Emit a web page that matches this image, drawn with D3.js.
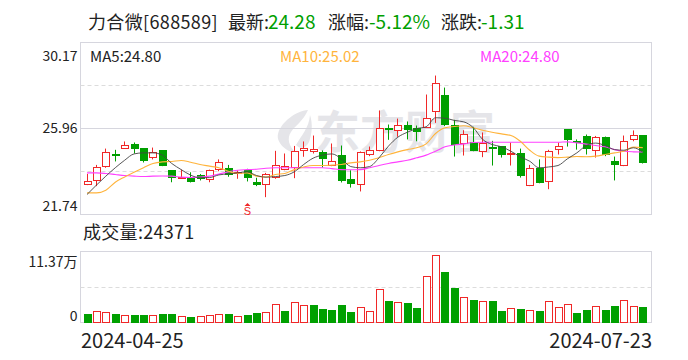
<!DOCTYPE html>
<html><head><meta charset="utf-8">
<script src="https://cdn.jsdelivr.net/npm/d3@7/dist/d3.min.js"></script>
<style>html,body{margin:0;padding:0;background:#fff}svg{display:block}text{font-family:"Noto Sans CJK SC","Noto Sans",sans-serif}</style>
</head><body><svg id="c" width="688" height="360"></svg>
<script>
const opens =[23.18,23.37,24.09,24.68,24.99,25.17,24.96,24.55,24.86,23.90,23.54,23.50,23.63,23.42,23.91,23.98,23.75,23.88,23.31,23.18,23.54,23.93,24.03,24.86,24.79,24.78,24.11,24.63,23.45,23.18,24.65,24.86,25.97,25.84,26.10,25.97,26.00,26.76,27.57,26.09,25.20,25.25,24.79,25.02,25.07,24.70,24.73,23.13,23.99,23.32,24.91,25.91,25.32,25.56,24.86,25.51,24.34,24.11,25.40,25.59];
const closes=[23.34,24.03,24.76,24.62,25.12,24.97,24.35,24.78,24.11,23.54,23.57,23.36,23.47,23.88,24.27,23.70,23.81,23.54,23.19,23.68,24.12,24.07,24.81,24.96,24.91,24.50,24.32,23.41,23.27,24.76,24.86,25.94,25.94,26.09,25.91,25.82,26.43,28.14,26.15,25.15,25.64,24.84,25.20,24.99,24.68,24.71,23.67,23.98,23.31,24.81,25.06,25.43,25.28,24.99,25.50,24.66,24.21,25.30,25.59,24.28];
const highs =[23.73,24.17,24.97,24.91,25.32,25.27,24.96,25.02,24.86,23.90,23.94,23.81,23.72,23.94,24.44,24.17,23.91,23.98,23.54,23.78,24.86,24.73,25.10,25.32,25.61,24.88,25.22,25.12,23.91,24.83,25.07,26.84,26.15,26.44,26.30,26.10,27.62,28.55,27.96,26.38,25.87,26.04,25.76,25.35,25.07,25.27,24.97,24.17,24.44,24.91,25.27,25.91,25.42,25.66,25.59,25.56,24.58,25.61,25.86,25.61];
const lows  =[23.18,23.13,24.03,24.34,24.99,24.73,24.29,24.44,24.11,23.32,23.52,23.31,23.41,23.32,23.86,23.59,23.49,23.36,23.13,22.59,23.49,23.91,23.52,24.57,24.73,24.04,24.11,23.31,23.06,22.87,24.60,24.84,25.40,25.55,25.42,25.33,25.99,26.23,26.07,24.58,24.63,24.84,24.55,24.14,24.53,24.14,23.55,23.13,23.27,22.98,24.68,25.07,24.92,24.68,24.53,24.60,23.41,24.11,25.33,24.24];
const ma5 =[22.72,23.18,23.62,24.03,24.40,24.71,24.76,24.76,24.65,24.24,23.94,23.67,23.54,23.55,23.68,23.73,23.78,23.83,23.65,23.57,23.60,23.65,23.83,24.19,24.50,24.65,24.71,24.47,24.09,24.03,24.09,24.52,25.09,25.53,25.77,25.95,26.04,26.48,26.46,26.35,26.28,26.00,25.42,25.17,25.06,24.84,24.57,24.35,24.03,24.07,24.14,24.47,24.76,25.12,25.24,25.12,24.92,24.89,25.01,24.80];
const ma10=[22.80,22.80,22.93,23.32,23.58,23.81,24.03,24.24,24.32,24.34,24.39,24.30,24.19,24.11,24.03,23.86,23.75,23.78,23.62,23.58,23.70,23.75,23.94,24.07,24.14,24.14,24.16,24.19,24.27,24.32,24.40,24.52,24.68,24.81,24.92,25.01,25.20,25.71,25.99,26.05,26.09,25.99,25.87,25.77,25.69,25.61,25.33,24.89,24.60,24.55,24.53,24.55,24.58,24.57,24.60,24.68,24.76,24.84,25.04,25.02];
const ma20=[23.78,23.78,23.75,23.70,23.65,23.62,23.60,23.62,23.63,23.62,23.57,23.55,23.57,23.62,23.72,23.83,23.91,23.94,23.96,24.01,24.03,24.03,24.03,24.03,24.03,24.03,23.99,23.94,23.93,23.94,24.03,24.14,24.24,24.32,24.40,24.52,24.65,24.84,25.06,25.15,25.20,25.27,25.28,25.28,25.28,25.28,25.28,25.28,25.28,25.28,25.28,25.30,25.25,25.19,25.12,25.06,24.92,24.84,24.81,24.80];
const volumes=[1.34,1.76,1.60,1.34,1.12,1.17,1.17,1.12,1.34,1.34,0.96,0.85,0.96,1.12,1.28,1.34,0.96,1.17,1.50,1.60,2.88,1.82,3.20,2.72,2.78,2.14,1.98,2.78,1.66,2.40,1.76,5.29,3.42,3.20,3.10,2.30,7.37,10.73,8.06,5.50,4.00,3.58,3.36,3.42,1.82,2.24,2.14,1.92,1.82,3.36,2.40,2.88,1.50,1.98,2.56,1.98,2.62,3.52,2.56,2.437];
const volUp=[0,1,1,0,1,0,0,1,0,0,1,0,1,1,1,0,1,0,0,1,1,0,1,1,0,0,0,0,0,1,1,1,0,1,0,0,1,1,0,0,1,0,1,0,0,1,0,1,0,1,1,1,0,0,1,0,0,1,1,0];
const priceTicks=[30.17,25.96,21.74];
const volTicks=[11.37,0];
const volTickLabels=["11.37万","0"];
const dateLabels=["2024-04-25","2024-07-23"];
const signalIndex=17;
const maLabels=["MA5:24.80","MA10:25.02","MA20:24.80"];

const RED="#f02828",GREEN="#009f00",FRAME="#d6d6de",TXT="#222";
const svg=d3.select("#c");
const L=80.5,R=651.5,T=42.5,B=214.5,VT=251.5,VB=322.5;
const idx=d3.range(closes.length);
const x=d3.scaleBand().domain(idx).range([82.29,647.49]);
const cx=i=>x(i)+x.bandwidth()/2;
const y=d3.scaleLinear().domain([21.74,30.17]).range([B,T]);
const yv=d3.scaleLinear().domain([0,11.37]).range([VB,VT]);
const crisp=v=>Math.round(v-0.5)+0.5;

// watermark
const wm=svg.append("g").attr("fill","#e5e5e9");
wm.append("path").attr("d","M308 110C296 111 281 122 278 134C276 142 285 151 297 154C288 146 287 138 291 132C294 127 304 120 308 110Z");
wm.append("path").attr("d","M310 115C309 128 301 136 296 145C301 150 306 148 309 142C312 134 313 124 310 115Z");
wm.append("text").attr("x",315).attr("y",149).attr("font-size",45).attr("font-weight",700).text("东方财富");

// frames and grid
[[T,B],[VT,VB]].forEach(([a,b])=>svg.append("rect").attr("x",L).attr("y",a).attr("width",R-L).attr("height",b-a).attr("fill","none").attr("stroke",FRAME).attr("stroke-width",1));
svg.append("line").attr("x1",L).attr("x2",R).attr("y1",128.5).attr("y2",128.5).attr("stroke",FRAME);
[(T*3+B)/4,(T+B*3)/4].forEach(v=>svg.append("line").attr("x1",L).attr("x2",R).attr("y1",crisp(v)).attr("y2",crisp(v)).attr("stroke","#dcdcdc").attr("stroke-dasharray","4 3"));
svg.append("line").attr("x1",L).attr("x2",R).attr("y1",287.5).attr("y2",287.5).attr("stroke","#dcdcdc").attr("stroke-dasharray","4 3");

// candles
const c=svg.append("g").selectAll("g").data(idx).join("g");
const isUp=i=>closes[i]>=opens[i];
const col=i=>isUp(i)?RED:GREEN;
c.append("line").attr("x1",i=>crisp(cx(i))).attr("x2",i=>crisp(cx(i))).attr("y1",i=>y(highs[i])).attr("y2",i=>y(lows[i])).attr("stroke",col).attr("stroke-width",1);
c.append("rect").attr("x",i=>crisp(cx(i))-3.5+(isUp(i)?0:0)).attr("width",7)
 .attr("y",i=>crisp(y(Math.max(opens[i],closes[i]))))
 .attr("height",i=>Math.max(1,Math.round(Math.abs(y(opens[i])-y(closes[i])))))
 .attr("fill",i=>isUp(i)?"#fff":GREEN).attr("stroke",col).attr("stroke-width",1)
 .attr("shape-rendering","crispEdges");

// moving averages
const line=d3.line().x((d,i)=>cx(i)).y(d=>y(d)).curve(d3.curveMonotoneX);
[[ma20,"#ff40ff",1.1],[ma10,"#ffb43c",1.1],[ma5,"#444",0.9]].forEach(([d,k,w])=>svg.append("path").attr("d",line(d)).attr("fill","none").attr("stroke",k).attr("stroke-width",w));

// signal
const sx=crisp(cx(signalIndex));
svg.append("path").attr("d",`M${sx-3} 206L${sx} 203L${sx+3} 206Z`).attr("fill",RED);
svg.append("text").attr("x",sx).attr("y",215).attr("text-anchor","middle").attr("font-size",11).attr("fill",RED).style("font-family","Liberation Sans").text("S");

// volume
svg.append("g").selectAll("rect").data(idx).join("rect")
 .attr("x",i=>crisp(cx(i))-3.5).attr("width",7)
 .attr("y",i=>crisp(yv(volumes[i]))).attr("height",i=>VB-crisp(yv(volumes[i])))
 .attr("fill",i=>volUp[i]?"#fff":"#00a000").attr("stroke",i=>volUp[i]?RED:"#00a000")
 .attr("shape-rendering","crispEdges");

// axes
const pAxis=d3.axisLeft(y).tickValues(priceTicks).tickSize(0).tickPadding(3).tickFormat(d3.format(".2f"));
const pg=svg.append("g").attr("transform",`translate(${L},0)`).call(pAxis);
pg.select(".domain").remove();
const pShift=[12.5,-0.5,-9.5];
pg.selectAll("text").attr("font-size",14).attr("fill",TXT).style("font-family",'"Noto Sans CJK SC"').attr("dy",(d,i)=>`${pShift[i]+5}px`);
const vAxis=d3.axisLeft(yv).tickValues(volTicks).tickSize(0).tickPadding(3).tickFormat((d,i)=>volTickLabels[i]);
const vg=svg.append("g").attr("transform",`translate(${L},0)`).call(vAxis);
vg.select(".domain").remove();
const vShift=[9.5,-7.5];
vg.selectAll("text").attr("font-size",14).attr("fill",TXT).style("font-family",'"Noto Sans CJK SC"').attr("dy",(d,i)=>`${vShift[i]+5}px`);

// texts
const t=(xp,yp,s,fs,fill,anchor)=>svg.append("text").attr("x",xp).attr("y",yp).attr("font-size",fs).attr("fill",fill).attr("text-anchor",anchor||"start").text(s);
t(88,29,"力合微[688589]",18,TXT).attr("letter-spacing",0.35);
t(228,29,"最新:",18,TXT);t(268,29,"24.28",19,"#00a000");
t(328,29,"涨幅:",18,TXT);t(369,29,"-5.12%",19,"#00a000");
t(441,29,"涨跌:",18,TXT);t(481,29,"-1.31",19,"#00a000");
t(90,62,maLabels[0],15,TXT);t(280,62,maLabels[1],15,"#ffb43c");t(480,62,maLabels[2],15,"#ff40ff");
t(83,239,"成交量:24371",18,TXT).attr("letter-spacing",0.3);
t(81,348,dateLabels[0],20,TXT);t(652,348,dateLabels[1],20,TXT,"end");
</script></body></html>
